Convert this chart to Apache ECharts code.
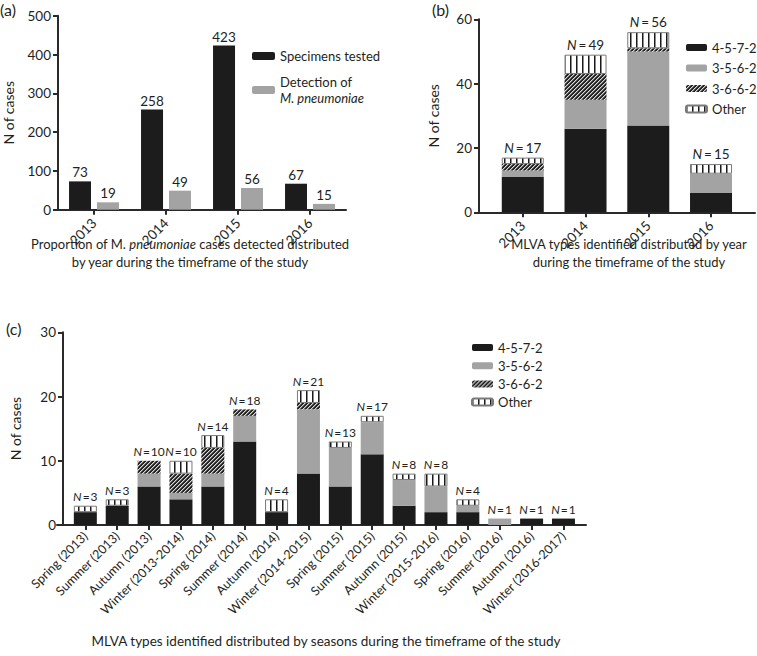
<!DOCTYPE html>
<html><head><meta charset="utf-8">
<script src="https://cdn.jsdelivr.net/npm/echarts@6/dist/echarts.min.js"></script>
<style>html,body{margin:0;padding:0;background:#fff}#c{width:757px;height:656px}</style>
</head><body><div id="c"></div>
<script>
// ---------- data ----------
const yearsA = ['2013', '2014', '2015', '2016'];
const specimensTested = [73, 258, 423, 67];
const detections = [19, 49, 56, 15];
const ticksA = [0, 500, 100];

const yearsB = ['2013', '2014', '2015', '2016'];
const b4572 = [11, 26, 27, 6];
const b3562 = [2, 9, 23, 6];
const b3662 = [2, 8, 1, 0];
const bOther = [2, 6, 5, 3];
const nB = [17, 49, 56, 15];
const ticksB = [0, 60, 20];

const seasonsC = ['Spring (2013)', 'Summer (2013)', 'Autumn (2013)', 'Winter (2013-2014)',
  'Spring (2014)', 'Summer (2014)', 'Autumn (2014)', 'Winter (2014-2015)',
  'Spring (2015)', 'Summer (2015)', 'Autumn (2015)', 'Winter (2015-2016)',
  'Spring (2016)', 'Summer (2016)', 'Autumn (2016)', 'Winter (2016-2017)'];
const c4572 = [2, 3, 6, 4, 6, 13, 2, 8, 6, 11, 3, 2, 2, 0, 1, 1];
const c3562 = [0, 0, 2, 1, 2, 4, 0, 10, 6, 5, 4, 4, 1, 1, 0, 0];
const c3662 = [0, 0, 2, 3, 4, 1, 0, 1, 0, 0, 0, 0, 0, 0, 0, 0];
const cOther = [1, 1, 0, 2, 2, 0, 2, 2, 1, 1, 1, 2, 1, 0, 0, 0];
const nC = [3, 3, 10, 10, 14, 18, 4, 21, 13, 17, 8, 8, 4, 1, 1, 1];
const ticksC = [0, 30, 10];

const typeNames = ['4-5-7-2', '3-5-6-2', '3-6-6-2', 'Other'];

// ---------- styles ----------
const FONT = 'Lato';
const TXT = '#231f20';
const BLACK = '#1c1c1c';
const GREY = '#a3a3a3';
const AX = {color: '#2a2a2a', width: 2};

function pat(w, h, draw) {
  const c = document.createElement('canvas'); c.width = w; c.height = h;
  const g = c.getContext('2d'); draw(g);
  return {image: c, repeat: 'repeat', imageWidth: w, imageHeight: h};
}
const hatch = pat(4, 4, g => {
  g.fillStyle = '#242424'; g.fillRect(0, 0, 4, 4);
  for (let i = 0; i < 4; i++) { g.fillStyle = '#d8d8d8'; g.fillRect(i, 3 - i, 1, 1); g.fillStyle = '#707070'; g.fillRect((i + 1) % 4, 3 - i, 1, 1); }
});
const other = pat(6, 6, g => {
  g.fillStyle = '#ffffff'; g.fillRect(0, 0, 6, 6);
  g.fillStyle = '#1a1a1a'; g.fillRect(0, 0, 1, 6);
  g.fillStyle = '#8a8a8a'; g.fillRect(1, 0, 1, 6);
});
const typeStyles = [
  {color: BLACK},
  {color: GREY},
  {color: hatch},
  {color: other, borderColor: '#7a7a7a', borderWidth: 1}
];

const nz = arr => arr.map(v => (v === 0 ? null : v));

function yAxisOf(grid, t, gap, offset) {
  return {
    gridIndex: grid, type: 'value', min: t[0], max: t[1], interval: t[2], offset: offset || 0,
    name: 'N of cases', nameLocation: 'middle', nameGap: gap, nameRotate: 90,
    nameTextStyle: {fontFamily: FONT, fontSize: 14, color: TXT},
    axisLine: {show: true, lineStyle: AX},
    axisTick: {show: true, length: 5, lineStyle: AX},
    axisLabel: {fontFamily: FONT, fontSize: 13.5, color: TXT, margin: 7},
    splitLine: {show: false}
  };
}
function xAxisOf(grid, cats, fs, showLine, margin) {
  return {
    gridIndex: grid, type: 'category', data: cats,
    axisLine: {show: showLine, onZero: false, lineStyle: AX},
    axisTick: {show: true, alignWithLabel: true, length: 5, interval: 0, lineStyle: AX},
    axisLabel: {interval: 0, rotate: 45, fontFamily: FONT, fontSize: fs, color: TXT, margin: margin}
  };
}
function lineAxis(grid) {
  return {gridIndex: grid, type: 'value', min: 0, max: 1,
    axisLine: {show: true, onZero: false, lineStyle: AX}, axisTick: {show: false},
    axisLabel: {show: false}, splitLine: {show: false}};
}
function hiddenY(grid) { return {gridIndex: grid, type: 'value', min: 0, max: 1, show: false}; }

function stackSeries(arrs, ax, stack, bw) {
  return arrs.map((a, i) => ({
    type: 'bar', name: typeNames[i], xAxisIndex: ax, yAxisIndex: ax, stack: stack,
    barWidth: bw, data: nz(a), itemStyle: typeStyles[i]
  }));
}
function nSeries(ax, stack, bw, nArr, fs, len, pad) {
  return {
    type: 'bar', name: 'N' + stack, xAxisIndex: ax, yAxisIndex: ax, stack: stack, barWidth: bw,
    data: new Array(len).fill(0), itemStyle: {color: 'transparent', borderWidth: 0},
    label: {show: true, position: 'top', distance: 3,
      formatter: p => '{i|N}{e|=}' + nArr[p.dataIndex],
      fontFamily: FONT, fontSize: fs, color: TXT,
      rich: {i: {fontStyle: 'italic', fontFamily: FONT, fontSize: fs, color: TXT},
             e: {fontFamily: FONT, fontSize: fs, color: TXT, padding: [0, pad, 0, pad]}}}
  };
}

const valLabel = {show: true, position: 'top', distance: 2, fontFamily: FONT, fontSize: 13.5, color: TXT};

const chart = echarts.init(document.getElementById('c'), null, {renderer: 'svg'});
chart.setOption({
  animation: false,
  backgroundColor: '#fff',
  textStyle: {fontFamily: FONT},
  title: [
    {text: '(a)', left: 0, top: 1, padding: 0, textStyle: {fontFamily: FONT, fontSize: 16, fontWeight: 'normal', color: TXT}},
    {text: '(b)', left: 432, top: 1, padding: 0, textStyle: {fontFamily: FONT, fontSize: 16, fontWeight: 'normal', color: TXT}},
    {text: '(c)', left: 6, top: 320, padding: 0, textStyle: {fontFamily: FONT, fontSize: 16, fontWeight: 'normal', color: TXT}},
    {text: 'Proportion of M. {i|pneumoniae} cases detected distributed\nby year during the timeframe of the study',
      left: 190, top: 235, padding: 0, textAlign: 'center',
      textStyle: {fontFamily: FONT, fontSize: 13, fontWeight: 'normal', color: TXT, lineHeight: 18,
        rich: {i: {fontStyle: 'italic', fontFamily: FONT, fontSize: 13, color: TXT, lineHeight: 18}}}},
    {text: 'MLVA types identified distributed by year\nduring the timeframe of the study',
      left: 629, top: 235, padding: 0, textAlign: 'center',
      textStyle: {fontFamily: FONT, fontSize: 13, fontWeight: 'normal', color: TXT, lineHeight: 18}},
    {text: 'MLVA types identified distributed by seasons during the timeframe of the study',
      left: 326, top: 632, padding: 0, textAlign: 'center',
      textStyle: {fontFamily: FONT, fontSize: 13.5, fontWeight: 'normal', color: TXT, lineHeight: 18}}
  ],
  legend: [
    {data: ['Specimens tested', 'Detection of M. pneumoniae'], orient: 'vertical', left: 252, top: 48,
      itemWidth: 23, itemHeight: 8, itemGap: 10, padding: 0, selectedMode: false,
      formatter: n => n === 'Detection of M. pneumoniae' ? 'Detection of\n{i|M. pneumoniae}' : n,
      textStyle: {fontFamily: FONT, fontSize: 13, color: TXT, lineHeight: 16,
        rich: {i: {fontStyle: 'italic', fontFamily: FONT, fontSize: 13, color: TXT, lineHeight: 16}}}},
    {data: typeNames, orient: 'vertical', left: 685, top: 39.5, itemWidth: 21, itemHeight: 7, itemGap: 4.5,
      padding: 0, selectedMode: false,
      textStyle: {fontFamily: FONT, fontSize: 13, color: TXT, lineHeight: 16}},
    {data: typeNames, orient: 'vertical', left: 471, top: 340, itemWidth: 21, itemHeight: 7, itemGap: 3.2,
      padding: 0, selectedMode: false,
      textStyle: {fontFamily: FONT, fontSize: 13, color: TXT, lineHeight: 15}}
  ],
  grid: [
    {left: 51, top: 15.7, width: 295, height: 194},
    {left: 491.4, top: 19.3, width: 251, height: 193},
    {left: 63.4, top: 332.3, width: 516, height: 192.7},
    {left: 479, top: 19.3, width: 276, height: 193},
    {left: 57, top: 332.3, width: 529, height: 192.7}
  ],
  xAxis: [
    xAxisOf(0, yearsA, 13.5, true, 11),
    xAxisOf(1, yearsB, 13.5, false, 11),
    xAxisOf(2, seasonsC, 12.5, false, 9),
    lineAxis(3),
    lineAxis(4)
  ],
  yAxis: [
    yAxisOf(0, ticksA, 43, 0),
    yAxisOf(1, ticksB, 39, 12.4),
    yAxisOf(2, ticksC, 41, 6.4),
    hiddenY(3),
    hiddenY(4)
  ],
  series: [
    {type: 'bar', name: 'Specimens tested', xAxisIndex: 0, yAxisIndex: 0, data: specimensTested,
      barWidth: 22, barGap: '27%', itemStyle: {color: BLACK}, label: valLabel},
    {type: 'bar', name: 'Detection of M. pneumoniae', xAxisIndex: 0, yAxisIndex: 0, data: detections,
      barWidth: 22, barGap: '27%', itemStyle: {color: GREY}, label: valLabel},
    ...stackSeries([b4572, b3562, b3662, bOther], 1, 'b', 42),
    nSeries(1, 'b', 42, nB, 13.5, yearsB.length, 2),
    ...stackSeries([c4572, c3562, c3662, cOther], 2, 'c', 23),
    nSeries(2, 'c', 23, nC, 12, seasonsC.length, 1)
  ]
});
</script>
</body></html>
